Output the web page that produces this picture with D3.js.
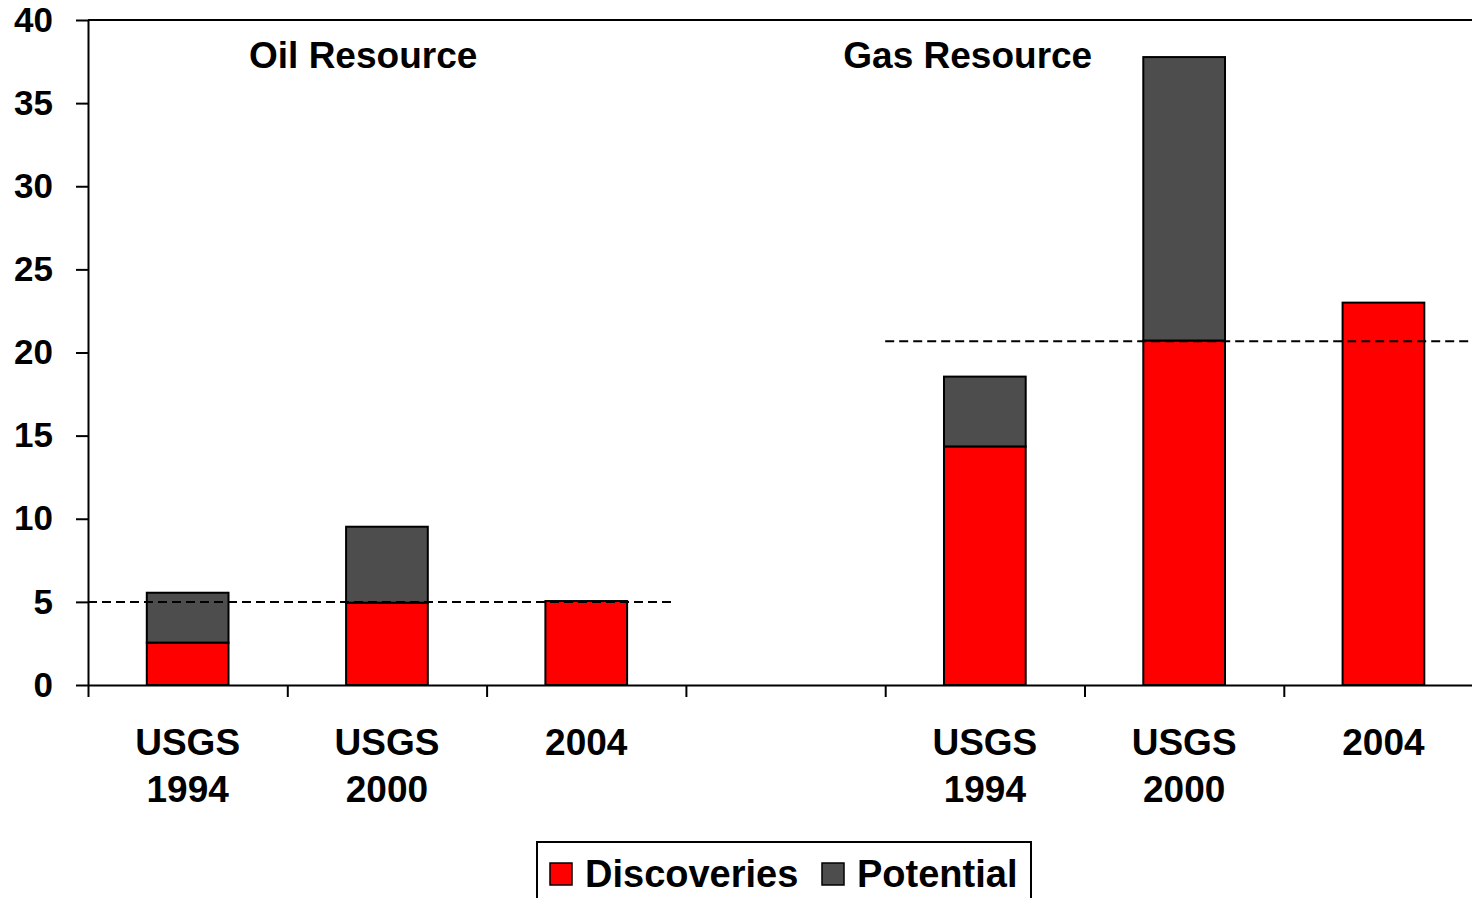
<!DOCTYPE html>
<html>
<head>
<meta charset="utf-8">
<script src="https://cdn.jsdelivr.net/npm/d3@7"></script>
<style>
  body { margin: 0; background: #fff; }
  text { font-family: "Liberation Sans", Arial, sans-serif; font-weight: bold; fill: #000; }
</style>
</head>
<body>
<script>
// data
const categories = ["oil94", "oil00", "oil04", "gap", "gas94", "gas00", "gas04"];
const catLabels = [["USGS", "1994"], ["USGS", "2000"], ["2004"], [], ["USGS", "1994"], ["USGS", "2000"], ["2004"]];
const discoveries = [2.55, 4.95, 5.05, null, 14.35, 20.72, 23.0];
const potential = [3.0, 4.57, 0, null, 4.2, 17.05, 0];
const yTicks = [0, 5, 10, 15, 20, 25, 30, 35, 40];
const groupTitles = ["Oil Resource", "Gas Resource"];
const refValues = [5.0, 20.68];
const seriesNames = ["Discoveries", "Potential"];
const seriesColors = ["#ff0000", "#4d4d4d"];

const width = 1472, height = 898;
const plotLeft = 88, plotTop = 20, plotBottom = 685;
const step = 199.3;
const plotRight = plotLeft + categories.length * step;

const svg = d3.select("body").append("svg")
    .attr("width", width)
    .attr("height", height);

const x = d3.scaleBand().domain(categories).range([plotLeft, plotRight]).padding(0);
const xs = d3.scaleLinear().domain([0, categories.length]).range([plotLeft, plotRight]);
const y = d3.scaleLinear().domain([0, 40]).range([plotBottom, plotTop]);

const barW = x.bandwidth() * 0.41;

// top frame line
svg.append("line")
    .attr("x1", plotLeft).attr("x2", plotRight)
    .attr("y1", y(40)).attr("y2", y(40))
    .style("stroke", "#000").style("stroke-width", 2);

// bars
const rows = categories.map((c, i) => ({ c, d: discoveries[i], p: potential[i] })).filter(r => r.d !== null);

svg.selectAll(".disc")
    .data(rows)
    .enter().append("rect")
    .attr("class", "disc")
    .attr("x", r => x(r.c) + (x.bandwidth() - barW) / 2)
    .attr("y", r => y(r.d))
    .attr("width", barW)
    .attr("height", r => y(0) - y(r.d))
    .style("fill", seriesColors[0])
    .style("stroke", "#000").style("stroke-width", 2);

svg.selectAll(".pot")
    .data(rows.filter(r => r.p > 0))
    .enter().append("rect")
    .attr("class", "pot")
    .attr("x", r => x(r.c) + (x.bandwidth() - barW) / 2)
    .attr("y", r => y(r.d + r.p))
    .attr("width", barW)
    .attr("height", r => y(r.d) - y(r.d + r.p))
    .style("fill", seriesColors[1])
    .style("stroke", "#000").style("stroke-width", 2);

// dashed reference lines
const refSpans = [[0, 2.93], [4, 7]];
svg.selectAll(".ref")
    .data(refValues)
    .enter().append("line")
    .attr("class", "ref")
    .attr("x1", (d, i) => xs(refSpans[i][0]))
    .attr("x2", (d, i) => xs(refSpans[i][1]))
    .attr("y1", d => y(d)).attr("y2", d => y(d))
    .style("stroke", "#000").style("stroke-width", 2)
    .style("stroke-dasharray", "9,5");

// y axis
const yAxis = svg.append("g")
    .attr("transform", `translate(${plotLeft},0)`)
    .call(d3.axisLeft(y).tickValues(yTicks).tickSize(12).tickSizeOuter(0).tickPadding(23));
yAxis.selectAll("text").style("font-size", "35px").style("font-family", "Liberation Sans, Arial, sans-serif").style("font-weight", "bold");
yAxis.selectAll("line, path").style("stroke", "#000").style("stroke-width", 2);

// x axis with ticks at slot boundaries
const xAxis = svg.append("g")
    .attr("transform", `translate(0,${plotBottom})`)
    .call(d3.axisBottom(xs).tickValues(d3.range(categories.length + 1)).tickSize(12).tickSizeOuter(0).tickFormat(""));
xAxis.selectAll("line, path").style("stroke", "#000").style("stroke-width", 2);

// category labels
categories.forEach((c, i) => {
    const t = svg.append("text")
        .attr("x", x(c) + x.bandwidth() / 2)
        .attr("y", 755)
        .attr("text-anchor", "middle")
        .style("font-size", "37px");
    catLabels[i].forEach((s, j) => {
        t.append("tspan").attr("x", x(c) + x.bandwidth() / 2).attr("dy", j === 0 ? 0 : 47).text(s);
    });
});

// group titles
const titlePos = [0.808, 3.79];
svg.selectAll(".title")
    .data(groupTitles)
    .enter().append("text")
    .attr("class", "title")
    .attr("x", (d, i) => xs(titlePos[i]))
    .attr("y", 68)
    .style("font-size", "37px")
    .text(d => d);

// legend
const legend = svg.append("g").attr("transform", "translate(537,842)");
legend.append("rect")
    .attr("width", 494).attr("height", 80)
    .style("fill", "#fff").style("stroke", "#000").style("stroke-width", 2);
const legendX = [13, 285];
seriesNames.forEach((name, i) => {
    legend.append("rect")
        .attr("x", legendX[i]).attr("y", 21)
        .attr("width", 22).attr("height", 22)
        .style("fill", seriesColors[i]).style("stroke", "#000").style("stroke-width", 1.5);
    legend.append("text")
        .attr("x", legendX[i] + 35).attr("y", 45)
        .style("font-size", "38px")
        .text(name);
});
</script>
</body>
</html>
